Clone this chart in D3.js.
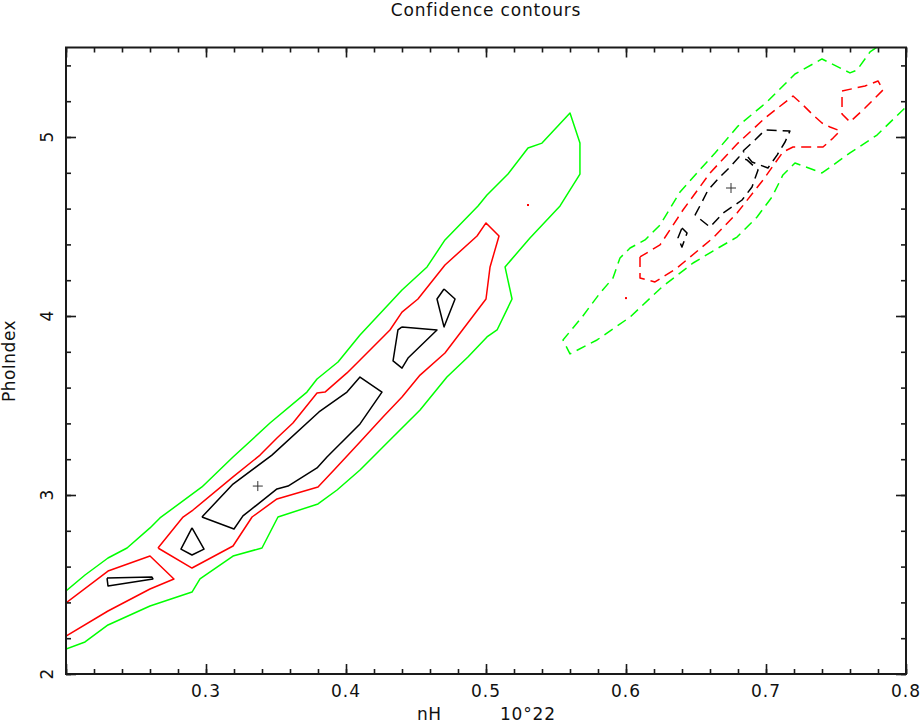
<!DOCTYPE html>
<html>
<head>
<meta charset="utf-8">
<script src="https://cdn.jsdelivr.net/npm/d3@7"></script>
<style>
html,body{margin:0;padding:0;background:#fff;}
svg{display:block;}
text{font-family:"DejaVu Sans",Verdana,sans-serif;fill:#111;}
</style>
</head>
<body>
<svg id="chart" width="921" height="724"></svg>
<script>
// ---- axis ticks ----
const xMajorTicks = [0.2,0.3,0.4,0.5,0.6,0.7,0.8];
const xLabelTicks = [0.3,0.4,0.5,0.6,0.7,0.8];
const yMajorTicks = [2,3,4,5];
const xDomain = [0.2,0.8];
const yDomain = [2,5.5];
const titleText = "Confidence contours";
const xLabel = ["nH","10°22"];
const yLabel = "PhoIndex";

// ---- solid contours (first fit) ----
const greenSolid = [[0.200,2.464],[0.2136,2.553],[0.230,2.648],[0.2436,2.704],[0.260,2.816],[0.2671,2.872],[0.2971,3.045],[0.3193,3.212],[0.3457,3.402],[0.3721,3.575],[0.3793,3.648],[0.3943,3.743],[0.410,3.894],[0.440,4.145],[0.4579,4.274],[0.4707,4.425],[0.4943,4.615],[0.5007,4.676],[0.5157,4.793],[0.530,4.939],[0.540,4.966],[0.560,5.134],[0.5671,4.966],[0.5671,4.793],[0.5529,4.615],[0.5314,4.436],[0.5136,4.274],[0.5186,4.095],[0.5079,3.922],[0.5007,3.883],[0.4871,3.771],[0.4721,3.659],[0.4529,3.475],[0.4314,3.307],[0.410,3.140],[0.3936,3.028],[0.380,2.950],[0.3514,2.877],[0.340,2.704],[0.3193,2.659],[0.2957,2.531],[0.290,2.458],[0.260,2.380],[0.230,2.274],[0.2136,2.179],[0.200,2.140]];
const redSolidMain = [[0.2657,2.704],[0.2836,2.877],[0.2907,2.916],[0.3193,3.101],[0.3386,3.223],[0.3507,3.318],[0.3621,3.402],[0.3793,3.570],[0.385,3.575],[0.4007,3.682],[0.4086,3.743],[0.4314,3.922],[0.440,4.022],[0.4514,4.095],[0.4707,4.285],[0.4936,4.447],[0.500,4.520],[0.5093,4.447],[0.5029,4.274],[0.500,4.095],[0.4707,3.793],[0.4529,3.670],[0.440,3.547],[0.4264,3.436],[0.410,3.296],[0.3921,3.145],[0.380,3.045],[0.3507,2.978],[0.3329,2.877],[0.3193,2.715],[0.290,2.592],[0.2657,2.704]];
const redSolidLeft = [[0.200,2.397],[0.230,2.575],[0.260,2.659],[0.2771,2.531],[0.260,2.475],[0.230,2.352],[0.200,2.212]];
const redSolidDot = [0.530,4.620];
const blackSolid1 = [[0.2293,2.536],[0.2614,2.542],[0.2621,2.531],[0.230,2.492],[0.2293,2.536]];
const blackSolid2 = [[0.290,2.816],[0.2986,2.698],[0.290,2.665],[0.2821,2.698],[0.290,2.816]];
const blackSolid3 = [[0.2971,2.877],[0.320,2.810],[0.3264,2.883],[0.3507,3.034],[0.3586,3.050],[0.3793,3.151],[0.3864,3.212],[0.410,3.397],[0.4257,3.575],[0.410,3.659],[0.4007,3.575],[0.3807,3.464],[0.3471,3.223],[0.3193,3.061],[0.2971,2.877]];
const blackSolid4 = [[0.440,3.939],[0.465,3.922],[0.4443,3.765],[0.440,3.709],[0.4336,3.749],[0.4371,3.922],[0.440,3.939]];
const blackSolid5 = [[0.470,4.151],[0.4779,4.095],[0.470,3.939],[0.465,4.095],[0.470,4.151]];
const bestFit1 = [0.337,3.050];

// ---- dashed contours (second fit) ----
const greenDashed = [[0.779,5.500],[0.7743,5.475],[0.765,5.374],[0.760,5.358],[0.740,5.436],[0.7207,5.352],[0.7007,5.196],[0.680,5.061],[0.6636,4.911],[0.6507,4.799],[0.6386,4.693],[0.6243,4.508],[0.6136,4.425],[0.6029,4.380],[0.5957,4.324],[0.5907,4.212],[0.5814,4.128],[0.5686,3.994],[0.555,3.866],[0.560,3.788],[0.5793,3.866],[0.6029,3.994],[0.6257,4.162],[0.6479,4.296],[0.6621,4.363],[0.6793,4.441],[0.6936,4.553],[0.7043,4.665],[0.7121,4.788],[0.7207,4.855],[0.740,4.799],[0.760,4.911],[0.7793,5.011],[0.800,5.168]];
const redDashedMain = [[0.610,4.330],[0.610,4.212],[0.6207,4.190],[0.6364,4.268],[0.6621,4.436],[0.6793,4.575],[0.6979,4.760],[0.7121,4.916],[0.7193,4.944],[0.7407,4.944],[0.7479,4.994],[0.7529,5.034],[0.7457,5.056],[0.740,5.078],[0.7336,5.123],[0.7264,5.179],[0.7193,5.229],[0.6993,5.106],[0.680,4.966],[0.660,4.799],[0.6407,4.592],[0.6243,4.397],[0.610,4.330]];
const redDashedSmall = [[0.7543,5.257],[0.7707,5.285],[0.780,5.313],[0.7836,5.263],[0.7707,5.162],[0.760,5.084],[0.7543,5.128],[0.7543,5.218],[0.7543,5.257]];
const redDashedDot = [0.600,4.100];
const blackDashedKite = [[0.640,4.492],[0.6436,4.464],[0.640,4.385],[0.6371,4.436],[0.640,4.492]];
const blackDashedLower = [[0.6493,4.564],[0.6543,4.637],[0.6586,4.704],[0.6671,4.777],[0.6743,4.832],[0.6807,4.888],[0.6864,4.872],[0.6943,4.816],[0.690,4.721],[0.6829,4.648],[0.6757,4.609],[0.6693,4.575],[0.660,4.497],[0.6493,4.564]];
const blackDashedUpper = [[0.6836,4.922],[0.6921,4.983],[0.6993,5.039],[0.7171,5.034],[0.7136,4.972],[0.7079,4.899],[0.7014,4.827],[0.690,4.860],[0.6836,4.922]];
const bestFit2 = [0.675,4.715];

const svg = d3.select("#chart");
const L = 66, R = 906, T = 47.5, B = 674;
const x = d3.scaleLinear().domain(xDomain).range([L, R]);
const y = d3.scaleLinear().domain(yDomain).range([B, T]);

svg.append("defs").append("clipPath").attr("id","plotclip")
  .append("rect").attr("x",L).attr("y",T).attr("width",R-L).attr("height",B-T);

const plot = svg.append("g").attr("clip-path","url(#plotclip)");
const line = d3.line().x(d=>x(d[0])).y(d=>y(d[1]));

function draw(data, color, dashed){
  plot.append("path").datum(data).attr("d",line)
    .attr("fill","none").attr("stroke",color).attr("stroke-width",1.5)
    .attr("stroke-linejoin","round")
    .attr("stroke-dasharray", dashed ? "10,6" : null);
}
draw(greenSolid,"#00ff00",false);
draw(redSolidMain,"#ff0000",false);
draw(redSolidLeft,"#ff0000",false);
[blackSolid1,blackSolid2,blackSolid3,blackSolid4,blackSolid5].forEach(c=>draw(c,"#000",false));
draw(greenDashed,"#00ff00",true);
draw(redDashedMain,"#ff0000",true);
draw(redDashedSmall,"#ff0000",true);
[blackDashedKite,blackDashedLower,blackDashedUpper].forEach(c=>draw(c,"#000",true));

[redSolidDot, redDashedDot].forEach(p=>{
  plot.append("rect").attr("x",x(p[0])-1).attr("y",y(p[1])-1).attr("width",2).attr("height",2).attr("fill","#ff0000");
});
[bestFit1,bestFit2].forEach(p=>{
  const cx = x(p[0]), cy = y(p[1]);
  plot.append("path").attr("d",`M${cx-5},${cy}H${cx+5}M${cx},${cy-5}V${cy+5}`)
    .attr("stroke","#333").attr("stroke-width",1);
});

// ---- axes (ticks inward on all sides) ----
const axisColor = "#1a1a1a";
const xMinor = d3.range(0.2, 0.8001, 0.02);
const yMinor = d3.range(2, 5.5001, 0.2);
function styleAxis(g){ g.select(".domain").remove(); g.selectAll("line").attr("stroke",axisColor).attr("stroke-width",1.6); }

svg.append("g").attr("transform",`translate(0,${B})`).call(d3.axisBottom(x).tickValues(xMinor).tickSize(-5).tickFormat("")).call(styleAxis);
svg.append("g").attr("transform",`translate(0,${B})`).call(d3.axisBottom(x).tickValues(xMajorTicks).tickSize(-10).tickFormat("")).call(styleAxis);
svg.append("g").attr("transform",`translate(0,${T})`).call(d3.axisTop(x).tickValues(xMinor).tickSize(-5).tickFormat("")).call(styleAxis);
svg.append("g").attr("transform",`translate(0,${T})`).call(d3.axisTop(x).tickValues(xMajorTicks).tickSize(-10).tickFormat("")).call(styleAxis);
svg.append("g").attr("transform",`translate(${L},0)`).call(d3.axisLeft(y).tickValues(yMinor).tickSize(-5).tickFormat("")).call(styleAxis);
svg.append("g").attr("transform",`translate(${L},0)`).call(d3.axisLeft(y).tickValues(yMajorTicks).tickSize(-10).tickFormat("")).call(styleAxis);
svg.append("g").attr("transform",`translate(${R},0)`).call(d3.axisRight(y).tickValues(yMinor).tickSize(-5).tickFormat("")).call(styleAxis);
svg.append("g").attr("transform",`translate(${R},0)`).call(d3.axisRight(y).tickValues(yMajorTicks).tickSize(-10).tickFormat("")).call(styleAxis);

svg.append("rect").attr("x",L).attr("y",T).attr("width",R-L).attr("height",B-T)
  .attr("fill","none").attr("stroke",axisColor).attr("stroke-width",2);

// tick labels
svg.append("g").selectAll("text").data(xLabelTicks).join("text")
  .attr("x",d=>x(d)).attr("y",697).attr("text-anchor","middle").attr("font-size",17)
  .attr("letter-spacing",1)
  .text(d=>d3.format(".1f")(d));
svg.append("g").selectAll("text").data(yMajorTicks).join("text")
  .attr("transform",d=>`translate(53,${y(d)}) rotate(-90)`).attr("text-anchor","middle").attr("font-size",17)
  .text(d=>d);

// titles
svg.append("text").attr("x",486).attr("y",16).attr("text-anchor","middle").attr("font-size",17)
  .attr("letter-spacing",0.8).text(titleText);
svg.append("text").attr("x",417).attr("y",720).attr("font-size",17).attr("letter-spacing",0.5).text(xLabel[0]);
svg.append("text").attr("x",500).attr("y",720).attr("font-size",17).attr("letter-spacing",0.8).text(xLabel[1]);
svg.append("text").attr("transform",`translate(15,361) rotate(-90)`).attr("text-anchor","middle").attr("font-size",17)
  .attr("letter-spacing",0.5).text(yLabel);
</script>
</body>
</html>
